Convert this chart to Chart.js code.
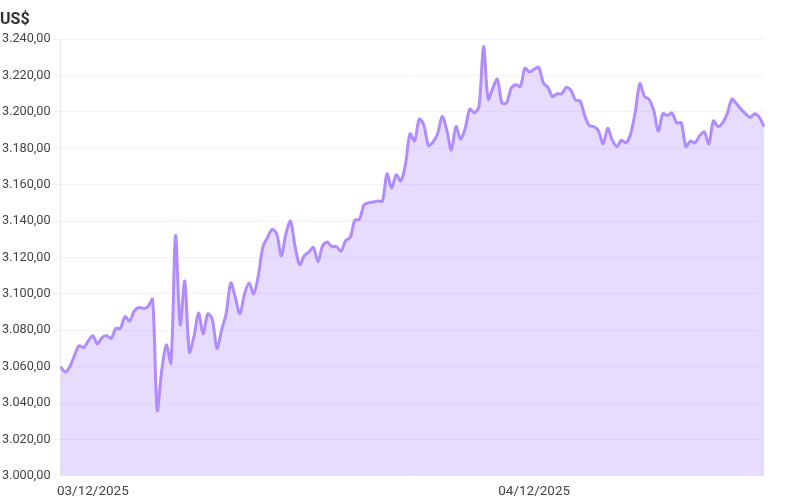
<!DOCTYPE html>
<html>
<head>
<meta charset="utf-8">
<script src="https://cdn.jsdelivr.net/npm/chart.js@4"></script>
<style>
  html, body { margin: 0; padding: 0; background: #fff; }
  #wrap { width: 800px; height: 500px; }
</style>
</head>
<body>
<div id="wrap"><canvas id="price"></canvas></div>
<script>
// price in US$, one point every 15 minutes starting 02/12/2025 22:15
var startDay = [2, 12, 2025];
var startMinutes = 22 * 60 + 15;
var stepMinutes = 15;

var prices = [
  3060, 3057, 3060, 3066, 3071.5, 3070.5, 3074, 3077, 3072.5, 3076,
  3077, 3075.5, 3081, 3081, 3087.5, 3085, 3090.5, 3092.5, 3092, 3093,
  3097, 3036, 3058, 3072, 3062, 3132, 3083, 3107, 3068, 3076.5,
  3089.5, 3078, 3089, 3086, 3070, 3080, 3089, 3106, 3098, 3089,
  3100, 3106, 3100, 3110, 3126, 3131, 3135.5, 3133, 3121, 3133,
  3140, 3126, 3116, 3121, 3123, 3125.5, 3117.7, 3126.5, 3128.5, 3126,
  3126, 3123.5, 3129.3, 3131, 3140.5, 3141, 3149, 3150, 3150.5, 3151,
  3151, 3166, 3158, 3165.5, 3162, 3171, 3188, 3184, 3196, 3193,
  3181.5, 3183.5, 3188, 3197.5, 3190, 3179, 3192, 3185, 3191, 3201.5,
  3199.5, 3203, 3236, 3207, 3213, 3218, 3205, 3205, 3213, 3215,
  3214, 3224, 3222, 3223.5, 3224.5, 3216, 3213.5, 3208.5, 3210, 3210,
  3213.5, 3212, 3206.5, 3206, 3198, 3192.5, 3192, 3189.5, 3182.5, 3191,
  3184.5, 3181, 3184.5, 3183, 3188, 3200, 3215.6, 3208.5, 3207, 3201,
  3189.5, 3199, 3198, 3199.5, 3194, 3194, 3181, 3184, 3183, 3187,
  3189, 3182.5, 3195, 3192, 3194, 3199, 3207, 3204.6, 3201.5, 3199,
  3197, 3199, 3197, 3192
];

var yMin = 3000;
var yMax = 3240;
var yStep = 20;

function pad(n) { return (n < 10 ? '0' : '') + n; }

// category labels "dd/mm/yyyy hh:mm"
var labels = [];
for (var i = 0; i < prices.length; i++) {
  var m = startMinutes + i * stepMinutes;
  var d = startDay[0] + Math.floor(m / 1440);
  m = m % 1440;
  labels.push(pad(d) + '/' + pad(startDay[1]) + '/' + startDay[2] + ' ' +
    pad(Math.floor(m / 60)) + ':' + pad(m % 60));
}

function brl(v) {
  var s = v.toFixed(2).split('.');
  var int = s[0].replace(/\B(?=(\d{3})+(?!\d))/g, '.');
  return int + ',' + s[1];
}

new Chart('price', {
  type: 'line',
  data: {
    labels: labels,
    datasets: [{
      data: prices,
      borderColor: 'rgb(176,140,255)',
      backgroundColor: 'rgba(176,140,255,0.3)',
      borderWidth: 3,
      pointRadius: 0,
      tension: 0.3,
      fill: 'start'
    }]
  },
  options: {
    responsive: true,
    maintainAspectRatio: false,
    animation: false,
    layout: { padding: { left: 0, right: 36, top: 0, bottom: 0 } },
    plugins: {
      legend: { display: false },
      tooltip: { enabled: false },
      title: {
        display: true,
        text: 'US$',
        align: 'start',
        color: '#333',
        font: { family: 'Roboto', size: 16, weight: 'bold' },
        padding: { top: 10, bottom: 10 }
      }
    },
    scales: {
      x: {
        grid: { display: false },
        border: { display: false },
        ticks: {
          autoSkip: false,
          maxRotation: 0,
          padding: 0,
          color: '#444',
          font: { family: 'Roboto', size: 13.5 },
          callback: function (val, idx) {
            var l = labels[idx];
            return l.slice(11) === '00:00' ? l.slice(0, 10) : null;
          }
        }
      },
      y: {
        min: yMin,
        max: yMax,
        grid: { color: '#f2f2f2' },
        border: { color: '#e6e6e6' },
        ticks: {
          stepSize: yStep,
          padding: 2,
          color: '#444',
          font: { family: 'Roboto', size: 12.7 },
          callback: function (v) { return brl(v); }
        }
      }
    }
  }
});
</script>
</body>
</html>
